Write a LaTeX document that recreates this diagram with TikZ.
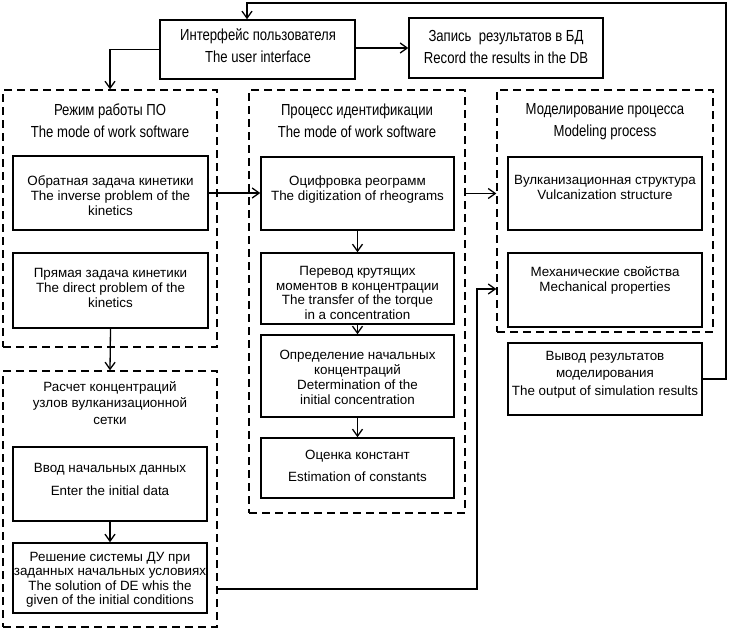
\documentclass[tikz,border=0pt]{standalone}
\usepackage{fontspec}
\setmainfont{Liberation Sans}
\newfontfamily\narrowf[FakeStretch=0.82]{Liberation Sans}
\usetikzlibrary{arrows.meta}
\begin{document}
\begin{tikzpicture}[x=1pt,y=-1pt,
  box/.style={draw, line width=1.5pt, inner sep=0pt},
  dbox/.style={draw, line width=1.4pt, dash pattern=on 8pt off 5pt, inner sep=0pt},
  txt/.style={inner sep=0pt, align=center, font=\fontsize{13.4}{15}\selectfont},
  ttl/.style={inner sep=0pt, align=center, font=\narrowf\fontsize{16}{22}\selectfont},
  arr/.style={line width=1.3pt, -{Straight Barb[length=7pt,width=10pt,line width=1.3pt]}}]
\fill[white] (0,0) rectangle (729,629);
\useasboundingbox (0,0) rectangle (729,629);

% dashed groups
\node[dbox, minimum width=214pt, minimum height=257pt] (mode) at (110,218.5) {};
\node[dbox, minimum width=216pt, minimum height=423pt] (ident) at (357,301.5) {};
\node[dbox, minimum width=216pt, minimum height=242pt] (model) at (605,211) {};
\node[dbox, minimum width=214pt, minimum height=256pt] (raschet) at (110,499) {};

% solid boxes
\node[box, minimum width=195pt, minimum height=59pt] (ui) at (257.5,49.5) {};
\node[box, minimum width=194pt, minimum height=60pt] (rec) at (506,48) {};
\node[box, minimum width=195pt, minimum height=74pt] (obr) at (110.5,193) {};
\node[box, minimum width=195pt, minimum height=75pt] (pryam) at (110.5,290.5) {};
\node[box, minimum width=193pt, minimum height=73pt] (cif) at (357.5,193.5) {};
\node[box, minimum width=193pt, minimum height=71pt] (per) at (357.5,288.5) {};
\node[box, minimum width=193pt, minimum height=82pt] (opr) at (357.5,376) {};
\node[box, minimum width=193pt, minimum height=60pt] (ots) at (357.5,468) {};
\node[box, minimum width=194pt, minimum height=73pt] (vulk) at (605,193.5) {};
\node[box, minimum width=194pt, minimum height=74pt] (mech) at (605,290) {};
\node[box, minimum width=194pt, minimum height=72pt] (vyvod) at (605,379) {};
\node[box, minimum width=194pt, minimum height=74pt] (vvod) at (110,484) {};
\node[box, minimum width=194pt, minimum height=70pt] (resh) at (110,578) {};

% texts
\node[ttl] (uit) at (258,46) {Интерфейс пользователя\\The user interface};
\node[ttl] (rect) at (506,46.5) {Запись~ результатов в БД\\Record the results in the DB};
\node[ttl] (modet) at (110,121) {Режим работы ПО\\The mode of work software};
\node[ttl] (identt) at (357,121) {Процесс идентификации\\The mode of work software};
\node[ttl] (modelt) at (605,122) {Моделирование процесса\\Modeling process};
\node[txt] (obrt) at (110.5,196) {Обратная задача кинетики\\The inverse problem of the\\kinetics};
\node[txt] (pryamt) at (110.5,288) {Прямая задача кинетики\\The direct problem of the\\kinetics};
\node[txt] (cift) at (357.5,189.5) {Оцифровка реограмм\\The digitization of rheograms};
\node[txt, font=\fontsize{13.4}{14.6}\selectfont] (pert) at (357.5,293) {Перевод крутящих\\моментов в концентрации\\The transfer of the torque\\in a concentration};
\node[txt] (oprt) at (357.5,377) {Определение начальных\\концентраций\\Determination of the\\initial concentration};
\node[txt, font=\fontsize{13.4}{22}\selectfont] (otst) at (357.5,466) {Оценка констант\\Estimation of constants};
\node[txt] (vulkt) at (605,187.5) {Вулканизационная структура\\Vulcanization structure};
\node[txt] (mecht) at (605,280.5) {Механические свойства\\Mechanical properties};
\node[txt, font=\fontsize{13.4}{17.5}\selectfont] (vyvodt) at (605,374.5) {Вывод результатов\\моделирования\\The output of simulation results};
\node[txt, font=\fontsize{13.4}{16.5}\selectfont] (raschett) at (110,403) {Расчет концентраций\\узлов вулканизационной\\сетки};
\node[txt, font=\fontsize{13.4}{23}\selectfont] (vvodt) at (110,479.5) {Ввод начальных данных\\Enter the initial data};
\node[txt, font=\fontsize{13.4}{14.5}\selectfont] (resht) at (110,580) {Решение системы ДУ при\\заданных начальных условиях\\The solution of DE whis the\\given of the initial conditions};

% connectors
\coordinate (fb) at (726,3);
\draw[arr] (vyvod.east) -| (fb) -| ([xshift=-10.5pt]ui.north);
\draw[arr] (rec.west -| ui.east) -- (rec.west);
\draw[arr] (ui.west) -| (mode.north);
\draw[arr] (obr.east) -- (obr.east -| cif.west);
\draw[arr] (ident.east |- cif.east) -- (model.west |- cif.east);
\draw[arr] (cif.south) -- (per.north);
\draw[arr] (per.south) -- (opr.north);
\draw[arr] (opr.south) -- (ots.north);
\draw[arr] (pryam.south) -- (raschet.north);
\draw[arr] (vvod.south) -- (resh.north);
\coordinate (m1) at (477,589);
\coordinate (m2) at (477,289);
\draw[arr] (raschet.east |- m1) -- (m1) -- (m2) -- (model.west |- m2);
\end{tikzpicture}
\end{document}
